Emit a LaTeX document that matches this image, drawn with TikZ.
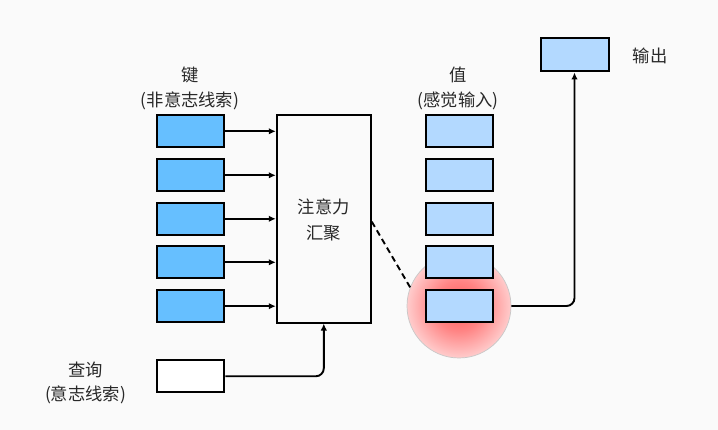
\documentclass[tikz,border=0pt]{standalone}
\usepackage{fontspec}
\newfontfamily\cjk{Noto Sans CJK SC}
\usetikzlibrary{arrows.meta}
\definecolor{bg}{RGB}{250,250,250}
\definecolor{keyc}{RGB}{102,191,255}
\definecolor{valc}{RGB}{179,217,255}
\definecolor{txt}{RGB}{40,40,40}
\pgfdeclareradialshading{redglow}{\pgfpoint{0bp}{0bp}}{%
  color(0bp)=(red!65!white);
  color(12bp)=(red!48!white);
  color(25bp)=(red!20!white);
  color(50bp)=(red!4!white)}
\tikzset{
  box/.style={draw=black, line width=2pt, minimum width=67pt, minimum height=32pt, inner sep=0pt},
  keybox/.style={box, fill=keyc},
  valbox/.style={box, fill=valc},
  lbl/.style={font=\cjk\fontsize{17.3}{20}\selectfont, text=txt, inner sep=0pt},
  conn/.style={line width=1.9pt, -{Latex[length=7pt,width=6.5pt]}},
}
\begin{document}
\begin{tikzpicture}[x=1pt,y=-1pt]
\fill[bg] (0,0) rectangle (718,430);
\useasboundingbox (0,0) rectangle (718,430);
% glow circle
\node[circle, minimum size=104pt, inner sep=0pt, draw=black!22, line width=0.7pt, shading=redglow] (glow) at (459,306) {};
% keys and values
\foreach \i/\y in {1/131.3,2/175.3,3/218.8,4/262.3,5/306.2}{
  \node[keybox] (k\i) at (190.5,\y) {};
  \node[valbox] (v\i) at (459.3,\y) {};
}
% attention box
\node[draw=black, line width=2pt, fill=bg, minimum width=94pt, minimum height=207.5pt, inner sep=0pt] (att) at (323.8,218.8) {};
\node[lbl, align=center] (atttxt) at (323.8,220) {注意力\\[6pt]汇聚};
% query
\node[box, fill=white] (q) at (190.8,376.3) {};
% output
\node[box, minimum width=68pt, minimum height=33pt, fill=valc] (out) at (574.5,55) {};
% labels
\node[lbl] (kl1) at (190,75) {键};
\node[lbl] (kl2) at (190,101) {(非意志线索)};
\node[lbl] (vl1) at (458.5,75) {值};
\node[lbl] (vl2) at (458,101) {(感觉输入)};
\node[lbl] (ql1) at (85.5,369.5) {查询};
\node[lbl] (ql2) at (85.5,395) {(意志线索)};
\node[lbl] (ol) at (650,55.5) {输出};
% arrows keys -> att
\foreach \i in {1,...,5}{
  \draw[conn] (k\i.east) -- (k\i.east -| att.west);
}
% query -> att
\draw[conn, rounded corners=8pt] (q.east) -| (att.south);
% dashed
\draw[line width=1.9pt, dash pattern=on 6pt off 4pt] (att.east |- 0,221.7) -- (411.7,290);
% glow -> out
\draw[conn, rounded corners=8pt] (glow.east) -| (out.south);
\end{tikzpicture}
\end{document}
